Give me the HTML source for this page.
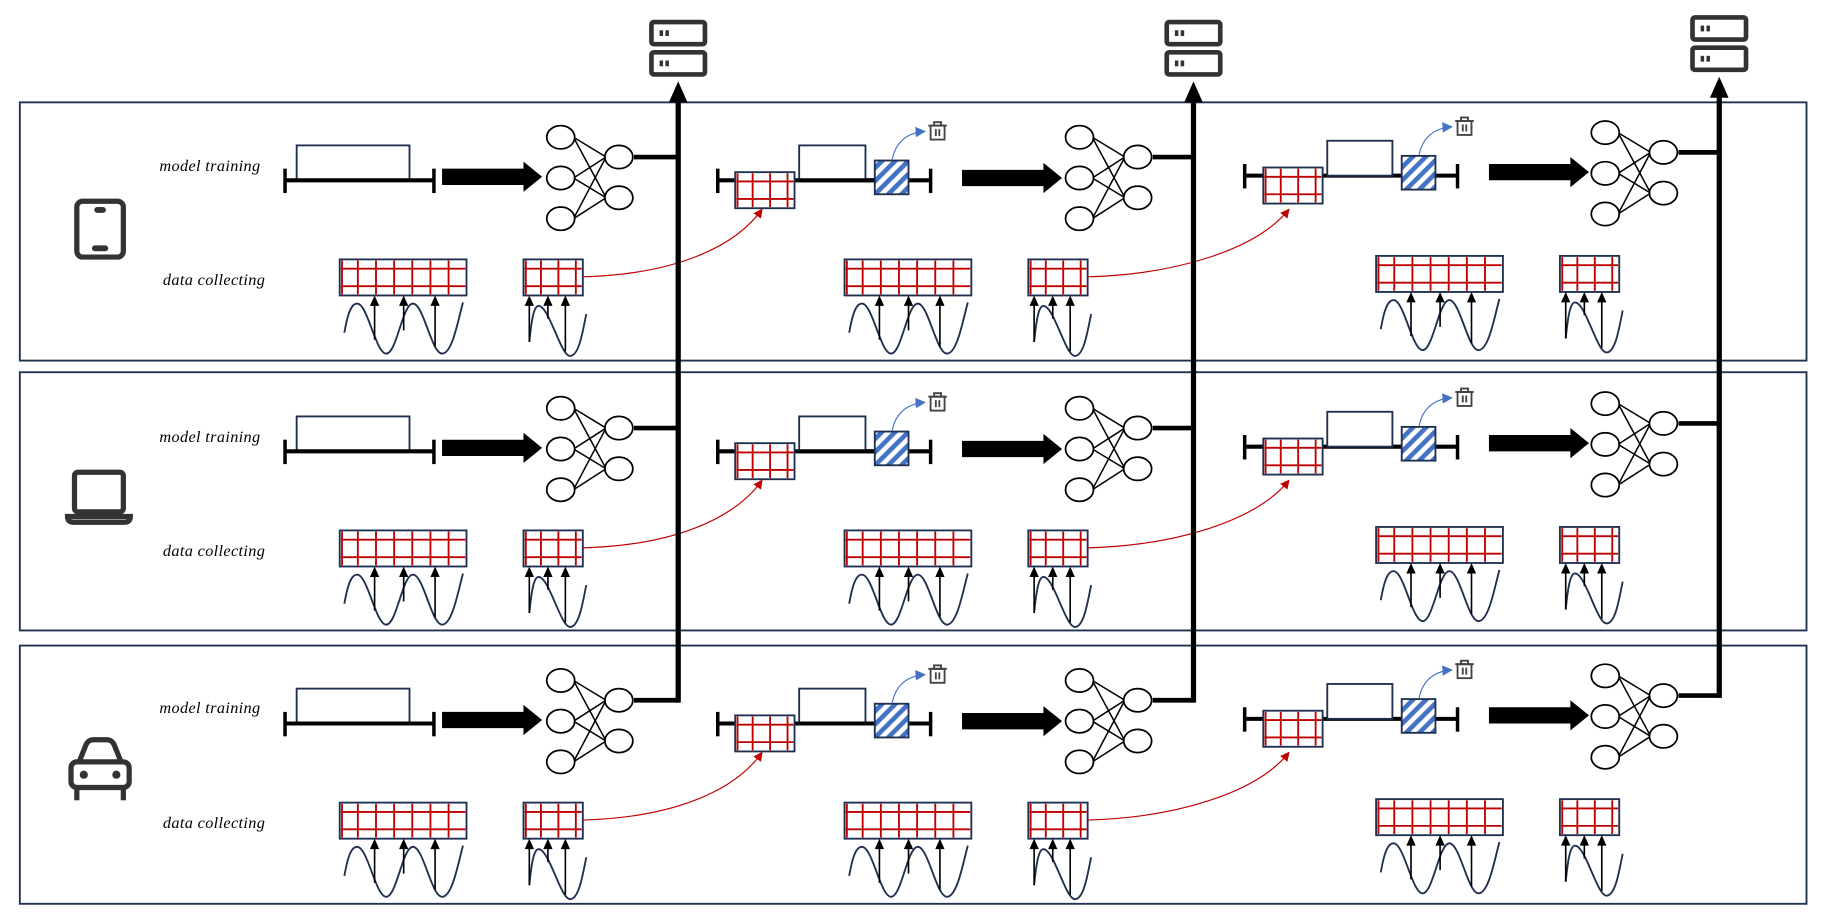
<!DOCTYPE html>
<html><head><meta charset="utf-8"><style>
html,body{margin:0;padding:0;background:#fff;}
svg{display:block;}
text{font-family:"Liberation Serif",serif;font-style:italic;font-size:14px;letter-spacing:0.3px;fill:#000;}
</style></head><body>
<svg width="1824" height="923" viewBox="0 0 1568 793.5" xmlns="http://www.w3.org/2000/svg">
<defs>
<pattern id="hatch" patternUnits="userSpaceOnUse" width="8" height="8" patternTransform="rotate(45)">
<rect width="8" height="8" fill="#fff"/><rect width="4" height="8" fill="#4472c4"/>
</pattern>
<g id="grid">
<rect x="0" y="0" width="109" height="31" fill="#fff" stroke="#1f3050" stroke-width="1.6"/>
<g stroke="#c00000" stroke-width="1.6">
<line x1="2" y1="1" x2="2" y2="30"/><line x1="15.6" y1="1" x2="15.6" y2="30"/><line x1="31.2" y1="1" x2="31.2" y2="30"/><line x1="46.8" y1="1" x2="46.8" y2="30"/><line x1="62.4" y1="1" x2="62.4" y2="30"/><line x1="78" y1="1" x2="78" y2="30"/><line x1="93.6" y1="1" x2="93.6" y2="30"/>
<line x1="1" y1="8" x2="108" y2="8"/><line x1="1" y1="23" x2="108" y2="23"/>
</g></g>
<g id="sgrid">
<rect x="0" y="0" width="51" height="31" fill="#fff" stroke="#1f3050" stroke-width="1.6"/>
<g stroke="#c00000" stroke-width="1.6">
<line x1="2" y1="1" x2="2" y2="30"/><line x1="15" y1="1" x2="15" y2="30"/><line x1="30" y1="1" x2="30" y2="30"/><line x1="45" y1="1" x2="45" y2="30"/>
<line x1="1" y1="8" x2="50" y2="8"/><line x1="1" y1="23" x2="50" y2="23"/>
</g></g>
<g id="wave">
<path d="M4,32 C7,15 10,7 15,7 C24,7 31,50 40,50 C49,50 54,7 63,7 C72,7 79,50 88,50 C97,50 102,20 106,6" fill="none" stroke="#1f3050" stroke-width="1.6"/>
<g stroke="#000" stroke-width="1.4"><line x1="30" y1="38" x2="30" y2="8"/><line x1="55" y1="30" x2="55" y2="8"/><line x1="82" y1="44" x2="82" y2="8"/></g>
<polygon points="30,0 26,9 34,9"/><polygon points="55,0 51,9 59,9"/><polygon points="82,0 78,9 86,9"/>
</g>
<g id="swave">
<path d="M5,40 C7,20 9,9 13,9 C22,9 32,52 40,52 C48,52 51,30 54,16" fill="none" stroke="#1f3050" stroke-width="1.6"/>
<g stroke="#000" stroke-width="1.4"><line x1="5" y1="40" x2="5" y2="8"/><line x1="21" y1="20" x2="21" y2="8"/><line x1="36" y1="48" x2="36" y2="8"/></g>
<polygon points="5,0 1,9 9,9"/><polygon points="21,0 17,9 25,9"/><polygon points="36,0 32,9 40,9"/>
</g>
<g id="nn" fill="#fff" stroke="#000" stroke-width="1.5">
<g stroke-width="1.3"><line x1="11" y1="0" x2="39" y2="17"/><line x1="11" y1="0" x2="39" y2="52"/><line x1="11" y1="35" x2="39" y2="17"/><line x1="11" y1="35" x2="39" y2="52"/><line x1="11" y1="70" x2="39" y2="17"/><line x1="11" y1="70" x2="39" y2="52"/></g>
<ellipse cx="0" cy="0" rx="12" ry="10"/><ellipse cx="0" cy="35" rx="12" ry="10"/><ellipse cx="0" cy="70" rx="12" ry="10"/>
<ellipse cx="50" cy="17" rx="12" ry="10"/><ellipse cx="50" cy="52" rx="12" ry="10"/>
</g>
<polygon id="bigarrow" points="0,-7 70,-7 70,-13 86,0 70,13 70,7 0,7" fill="#000"/>
<g id="trash" fill="none" stroke="#444" stroke-width="1.6">
<line x1="-8" y1="-6" x2="8" y2="-6"/><rect x="-3" y="-9" width="6" height="3"/><rect x="-6" y="-6" width="12" height="12"/><line x1="-1.5" y1="-3" x2="-1.5" y2="3"/><line x1="1.5" y1="-3" x2="1.5" y2="3"/>
</g>
<g id="server" fill="#fff" stroke="#333" stroke-width="4">
<rect x="2" y="2" width="46" height="19" rx="2"/><rect x="2" y="28" width="46" height="19" rx="2"/>
<g fill="#333" stroke="none"><rect x="9" y="9" width="3" height="5"/><rect x="14" y="9" width="3" height="5"/><rect x="9" y="35" width="3" height="5"/><rect x="14" y="35" width="3" height="5"/></g>
</g>
<marker id="ra" markerWidth="8" markerHeight="8" refX="7" refY="4" orient="auto" markerUnits="userSpaceOnUse"><polygon points="0,0 8,4 0,8" fill="#c00000"/></marker>
<marker id="ba" markerWidth="9" markerHeight="9" refX="8" refY="4.5" orient="auto" markerUnits="userSpaceOnUse"><polygon points="0,0 9,4.5 0,9" fill="#4472c4"/></marker>

<g id="row">
<rect x="255" y="125" width="97" height="30" fill="#fff" stroke="#1f3050" stroke-width="1.6"/>
<line x1="245" y1="155" x2="373" y2="155" stroke="#000" stroke-width="3.5"/>
<line x1="245" y1="145" x2="245" y2="166" stroke="#000" stroke-width="3"/>
<line x1="373" y1="145" x2="373" y2="166" stroke="#000" stroke-width="3"/>
<use href="#bigarrow" x="380" y="152"/>
<use href="#grid" x="292" y="223"/><use href="#wave" x="292" y="254"/>
<use href="#sgrid" x="450" y="223"/><use href="#swave" x="450" y="254"/>
<path d="M501,238 C575,236 630,215 655,180" fill="none" stroke="#c00000" stroke-width="1" marker-end="url(#ra)"/>
<line x1="617" y1="155" x2="800" y2="155" stroke="#000" stroke-width="3.5"/>
<line x1="617" y1="145" x2="617" y2="166" stroke="#000" stroke-width="3"/>
<line x1="800" y1="145" x2="800" y2="166" stroke="#000" stroke-width="3"/>
<rect x="687" y="125" width="57" height="30" fill="#fff" stroke="#1f3050" stroke-width="1.6"/>
<line x1="687" y1="155" x2="752" y2="155" stroke="#000" stroke-width="3.5"/>
<use href="#sgrid" x="632" y="148"/>
<rect x="752" y="138" width="29" height="29" fill="url(#hatch)" stroke="#1f3050" stroke-width="1.6"/>
<path d="M767,137 C770,122 780,114 795,113" fill="none" stroke="#4472c4" stroke-width="1" marker-end="url(#ba)"/>
<use href="#trash" x="806" y="114"/>
<use href="#bigarrow" x="827" y="153"/>
<use href="#grid" x="726" y="223"/><use href="#wave" x="726" y="254"/>
<use href="#sgrid" x="884" y="223"/><use href="#swave" x="884" y="254"/>
<path d="M935,238 C1010,236 1080,215 1108,180" fill="none" stroke="#c00000" stroke-width="1" marker-end="url(#ra)"/>
<line x1="1070" y1="151" x2="1253" y2="151" stroke="#000" stroke-width="3.5"/>
<line x1="1070" y1="141" x2="1070" y2="162" stroke="#000" stroke-width="3"/>
<line x1="1253" y1="141" x2="1253" y2="162" stroke="#000" stroke-width="3"/>
<rect x="1141" y="121" width="56" height="30" fill="#fff" stroke="#1f3050" stroke-width="1.6"/>
<use href="#sgrid" x="1086" y="144"/>
<rect x="1205" y="134" width="29" height="29" fill="url(#hatch)" stroke="#1f3050" stroke-width="1.6"/>
<path d="M1220,133 C1223,118 1233,110 1248,109" fill="none" stroke="#4472c4" stroke-width="1" marker-end="url(#ba)"/>
<use href="#trash" x="1259" y="110"/>
<use href="#bigarrow" x="1280" y="148"/>
<use href="#grid" x="1183" y="220"/><use href="#wave" x="1183" y="251"/>
<use href="#sgrid" x="1341" y="220"/><use href="#swave" x="1341" y="251"/>
<line x1="545" y1="135" x2="583" y2="135" stroke="#000" stroke-width="4"/>
<line x1="991" y1="135" x2="1026" y2="135" stroke="#000" stroke-width="4"/>
<line x1="1443" y1="131" x2="1478" y2="131" stroke="#000" stroke-width="4"/>
<use href="#nn" x="482" y="118"/><use href="#nn" x="928" y="118"/><use href="#nn" x="1380" y="114"/>
</g>
</defs>

<g fill="none" stroke="#1f3050" stroke-width="1.6">
<rect x="17" y="88" width="1536" height="222"/>
<rect x="17" y="320" width="1536" height="222"/>
<rect x="17" y="555" width="1536" height="222"/>
</g>

<use href="#row"/>
<use href="#row" y="233"/>
<use href="#row" y="467"/>

<g stroke="#000" stroke-width="4.5">
<line x1="583" y1="84" x2="583" y2="604"/>
<line x1="1026" y1="84" x2="1026" y2="604"/>
<line x1="1478" y1="80" x2="1478" y2="600"/>
</g>
<polygon points="583,70 575,88 591,88"/>
<polygon points="1026,70 1018,88 1034,88"/>
<polygon points="1478,66 1470,84 1486,84"/>
<use href="#server" x="558" y="17"/>
<use href="#server" x="1001" y="17"/>
<use href="#server" x="1453" y="13"/>

<text x="137" y="147">model training</text>
<text x="140" y="245">data collecting</text>
<text x="137" y="380">model training</text>
<text x="140" y="478">data collecting</text>
<text x="137" y="613">model training</text>
<text x="140" y="712">data collecting</text>

<g fill="none" stroke="#333" stroke-width="4.5">
<rect x="66" y="173" width="40" height="48" rx="5"/>
<rect x="64" y="406" width="42" height="34" rx="3"/>
<path d="M58,444 L112,444 Q112,449 107,449 L63,449 Q58,449 58,444 Z"/>
<path d="M68,655 L74,640 Q76,636 80,636 L92,636 Q96,636 98,640 L104,655"/>
<rect x="61" y="655" width="50" height="22" rx="5"/>
<line x1="66" y1="678" x2="66" y2="688"/><line x1="106" y1="678" x2="106" y2="688"/>
</g>
<g fill="#333">
<rect x="81" y="178" width="10" height="5" rx="2.5"/><rect x="79" y="211" width="14" height="5" rx="2.5"/>
<circle cx="72" cy="666" r="3.5"/><circle cx="100" cy="666" r="3.5"/>
</g>
</svg>
</body></html>
